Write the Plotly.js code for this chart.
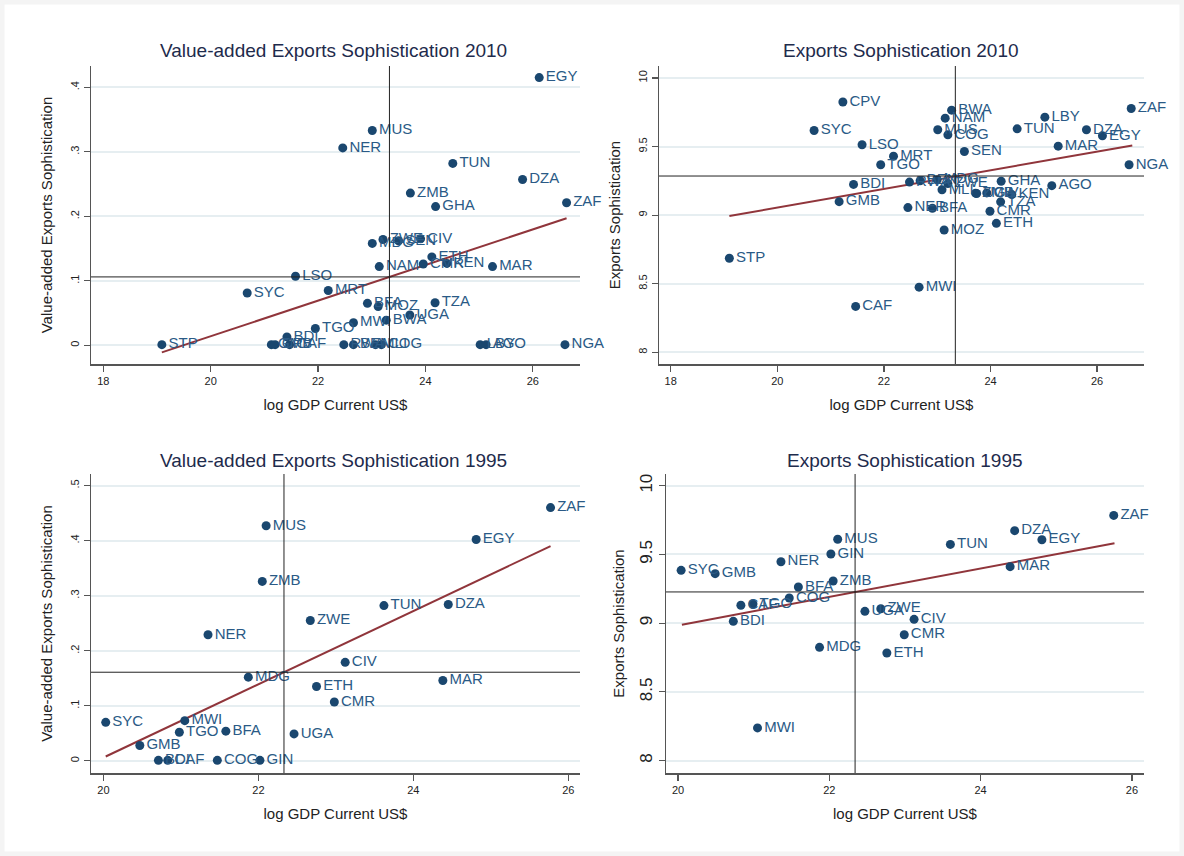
<!DOCTYPE html>
<html>
<head>
<meta charset="utf-8">
<script src="https://cdn.plot.ly/plotly-3.0.1.min.js"></script>
<style>
html,body{margin:0;padding:0;background:#ffffff;}
#chart{width:1184px;height:856px;}
</style>
</head>
<body>
<div id="chart"></div>
<script>
// ---------- Value-added Exports Sophistication 2010 ----------
var va2010Codes = ["STP","SYC","LSO","MRT","BDI","TGO","GMB","CPV","CAF","RWA","BEN","MLI","COG","LBY","AGO","NGA","MWI","BFA","MOZ","BWA","UGA","TZA","NAM","CMR","KEN","MAR","ETH","MDG","ZWE","SEN","CIV","GHA","ZMB","ZAF","DZA","TUN","NER","MUS","EGY"];
var va2010Gdp   = [19.09,20.68,21.58,22.19,21.42,21.95,21.13,21.20,21.47,22.48,22.66,23.07,23.18,25.02,25.13,26.60,22.66,22.92,23.12,23.27,23.71,24.18,23.14,23.96,24.40,25.25,24.12,23.01,23.21,23.50,23.91,24.19,23.72,26.63,25.81,24.51,22.46,23.01,26.12];
var va2010Soph  = [0.001,0.081,0.107,0.085,0.013,0.026,0.001,0.001,0.001,0.001,0.001,0.001,0.001,0.001,0.001,0.001,0.035,0.065,0.060,0.039,0.047,0.066,0.122,0.126,0.127,0.122,0.137,0.158,0.164,0.162,0.165,0.215,0.236,0.221,0.257,0.282,0.306,0.333,0.415];
var va2010FitX  = [19.09, 26.63];
var va2010FitY  = [-0.011, 0.197];
var va2010MeanX = 23.33;
var va2010MeanY = 0.106;

// ---------- Exports Sophistication 2010 ----------
var es2010Codes = ["CPV","BWA","NAM","MUS","COG","SYC","LSO","MRT","TGO","SEN","TUN","LBY","DZA","EGY","ZAF","MAR","NGA","AGO","GHA","KEN","TZA","CMR","ETH","MOZ","BFA","NER","BDI","GMB","STP","MWI","CAF","RWA","BEN","MDG","MLI","ZWE","ZMB","UGA","CIV"];
var es2010Gdp   = [21.23,23.27,23.15,23.01,23.20,20.69,21.59,22.18,21.94,23.51,24.50,25.02,25.80,26.10,26.64,25.27,26.60,25.15,24.20,24.40,24.19,23.99,24.11,23.13,22.91,22.45,21.43,21.16,19.10,22.66,21.47,22.48,22.68,23.00,23.09,23.20,23.72,23.74,23.93];
var es2010Soph  = [9.825,9.765,9.707,9.622,9.585,9.617,9.513,9.430,9.367,9.464,9.629,9.714,9.622,9.578,9.777,9.503,9.367,9.215,9.247,9.150,9.097,9.028,8.940,8.892,9.050,9.055,9.224,9.098,8.686,8.475,8.335,9.241,9.251,9.258,9.185,9.230,9.160,9.158,9.162];
var es2010FitX  = [19.10, 26.66];
var es2010FitY  = [8.994, 9.508];
var es2010MeanX = 23.34;
var es2010MeanY = 9.285;

// ---------- Value-added Exports Sophistication 1995 ----------
var va1995Codes = ["ZAF","MUS","EGY","ZMB","TUN","DZA","ZWE","NER","CIV","MDG","ETH","MAR","CMR","SYC","MWI","TGO","BFA","UGA","GMB","BDI","CAF","COG","GIN"];
var va1995Gdp   = [25.77,22.10,24.81,22.05,23.62,24.45,22.67,21.35,23.12,21.87,22.75,24.38,22.98,20.03,21.05,20.98,21.58,22.46,20.47,20.71,20.83,21.47,22.02];
var va1995Soph  = [0.460,0.427,0.402,0.326,0.282,0.284,0.255,0.229,0.179,0.152,0.135,0.146,0.107,0.070,0.073,0.052,0.054,0.049,0.028,0.001,0.001,0.001,0.001];
var va1995FitX  = [20.03, 25.77];
var va1995FitY  = [0.008, 0.390];
var va1995MeanX = 22.33;
var va1995MeanY = 0.161;

// ---------- Exports Sophistication 1995 ----------
var es1995Codes = ["ZAF","DZA","EGY","TUN","MUS","GIN","NER","MAR","SYC","GMB","ZMB","BFA","COG","CAF","TGO","BDI","UGA","ZWE","CIV","CMR","MDG","ETH","MWI"];
var es1995Gdp   = [25.76,24.45,24.81,23.60,22.11,22.02,21.36,24.39,20.04,20.49,22.05,21.59,21.47,20.83,20.99,20.73,22.47,22.68,23.12,22.99,21.87,22.76,21.05];
var es1995Soph  = [9.784,9.673,9.607,9.573,9.610,9.503,9.447,9.411,9.384,9.360,9.307,9.263,9.183,9.130,9.139,9.013,9.086,9.105,9.028,8.916,8.824,8.783,8.238];
var es1995FitX  = [20.05, 25.77];
var es1995FitY  = [8.989, 9.581];
var es1995MeanX = 22.34;
var es1995MeanY = 9.227;

// ---------- ticks & titles ----------
var xTicks2010 = [18, 20, 22, 24, 26];
var xTicks1995 = [20, 22, 24, 26];
var vaTicks2010 = [0, 0.1, 0.2, 0.3, 0.4];
var vaTickText2010 = ["0", ".1", ".2", ".3", ".4"];
var vaTicks1995 = [0, 0.1, 0.2, 0.3, 0.4, 0.5];
var vaTickText1995 = ["0", ".1", ".2", ".3", ".4", ".5"];
var esTicks = [8, 8.5, 9, 9.5, 10];
var esTickText = ["8", "8.5", "9", "9.5", "10"];
var panelTitles = ["Value-added Exports Sophistication 2010", "Exports Sophistication 2010",
                   "Value-added Exports Sophistication 1995", "Exports Sophistication 1995"];
var xTitle = "log GDP Current US$";
var yTitleVA = "Value-added Exports Sophistication";
var yTitleES = "Exports Sophistication";

// ---------- styling ----------
var W = 1184, H = 856;
var FONT = "Liberation Sans, Arial, sans-serif";
var NAVY = "#1a476f";
var LABEL_COL = "#2a5a86";
var MAROON = "#90353b";
var TITLE_COL = "#1e2b4c";

function pts(codes, xs, ys, xa, ya) {
  return {
    type: "scatter", mode: "markers+text", x: xs, y: ys, text: codes,
    xaxis: xa, yaxis: ya, textposition: "middle right",
    marker: {color: NAVY, size: 9},
    textfont: {family: FONT, size: 15, color: LABEL_COL},
    cliponaxis: false, hoverinfo: "skip", showlegend: false
  };
}
function fit(xs, ys, xa, ya) {
  return {
    type: "scatter", mode: "lines", x: xs, y: ys, xaxis: xa, yaxis: ya,
    line: {color: MAROON, width: 2}, hoverinfo: "skip", showlegend: false
  };
}

var data = [
  fit(va2010FitX, va2010FitY, "x", "y"),
  pts(va2010Codes, va2010Gdp, va2010Soph, "x", "y"),
  fit(es2010FitX, es2010FitY, "x2", "y2"),
  pts(es2010Codes, es2010Gdp, es2010Soph, "x2", "y2"),
  fit(va1995FitX, va1995FitY, "x3", "y3"),
  pts(va1995Codes, va1995Gdp, va1995Soph, "x3", "y3"),
  fit(es1995FitX, es1995FitY, "x4", "y4"),
  pts(es1995Codes, es1995Gdp, es1995Soph, "x4", "y4")
];

function px(a, b) { return [a / W, b / W]; }
function py(top, bottom) { return [1 - bottom / H, 1 - top / H]; }

function xaxis(dom, range, ticks, anchor) {
  return {
    domain: dom, range: range, anchor: anchor, tickvals: ticks, ticktext: ticks.map(String),
    showgrid: false, zeroline: false, showline: true, linecolor: "#555", linewidth: 1.5,
    ticks: "outside", ticklen: 6, tickcolor: "#555", tickwidth: 1.2,
    tickfont: {family: FONT, size: 11, color: "#222"},
    title: {text: xTitle, font: {family: FONT, size: 15, color: "#222"}, standoff: 14}
  };
}
function yaxis(dom, range, ticks, text, anchor, title, tsize, standoff) {
  return {
    domain: dom, range: range, anchor: anchor, tickvals: ticks, ticktext: text,
    showgrid: true, gridcolor: "#e6eef1", gridwidth: 2, zeroline: false,
    showline: true, linecolor: "#555", linewidth: 1.5,
    ticks: "outside", ticklen: 6, tickcolor: "#555", tickwidth: 1.2, tickangle: -90,
    tickfont: {family: FONT, size: tsize, color: "#222"},
    title: {text: title, font: {family: FONT, size: 15, color: "#222"}, standoff: standoff}
  };
}

var yTop = py(66, 364), yBot = py(474, 773);
var layout = {
  width: W, height: H, margin: {l: 0, r: 0, t: 0, b: 0},
  paper_bgcolor: "#ffffff", plot_bgcolor: "#ffffff", showlegend: false,
  font: {family: FONT},
  xaxis: xaxis(px(91, 580), [17.77, 26.88], xTicks2010, "y"),
  yaxis: yaxis(yTop, [-0.029, 0.433], vaTicks2010, vaTickText2010, "x", yTitleVA, 11, 13),
  xaxis2: xaxis(px(659, 1144), [17.78, 26.88], xTicks2010, "y2"),
  yaxis2: yaxis(yTop, [7.915, 10.087], esTicks, esTickText, "x2", yTitleES, 11, 13),
  xaxis3: xaxis(px(91, 580), [19.84, 26.15], xTicks1995, "y3"),
  yaxis3: yaxis(yBot, [-0.022, 0.521], vaTicks1995, vaTickText1995, "x3", yTitleVA, 11, 13),
  xaxis4: xaxis(px(666, 1144), [19.84, 26.16], xTicks1995, "y4"),
  yaxis4: yaxis(yBot, [7.91, 10.085], esTicks, esTickText, "x4", yTitleES, 17, 8),
  shapes: [
    {type: "line", xref: "x", yref: "y domain", x0: va2010MeanX, x1: va2010MeanX, y0: 0, y1: 1, line: {color: "#222", width: 1}},
    {type: "line", xref: "x domain", yref: "y", x0: 0, x1: 1, y0: va2010MeanY, y1: va2010MeanY, line: {color: "#222", width: 1}},
    {type: "line", xref: "x2", yref: "y2 domain", x0: es2010MeanX, x1: es2010MeanX, y0: 0, y1: 1, line: {color: "#222", width: 1}},
    {type: "line", xref: "x2 domain", yref: "y2", x0: 0, x1: 1, y0: es2010MeanY, y1: es2010MeanY, line: {color: "#222", width: 1}},
    {type: "line", xref: "x3", yref: "y3 domain", x0: va1995MeanX, x1: va1995MeanX, y0: 0, y1: 1, line: {color: "#222", width: 1}},
    {type: "line", xref: "x3 domain", yref: "y3", x0: 0, x1: 1, y0: va1995MeanY, y1: va1995MeanY, line: {color: "#222", width: 1}},
    {type: "line", xref: "x4", yref: "y4 domain", x0: es1995MeanX, x1: es1995MeanX, y0: 0, y1: 1, line: {color: "#222", width: 1}},
    {type: "line", xref: "x4 domain", yref: "y4", x0: 0, x1: 1, y0: es1995MeanY, y1: es1995MeanY, line: {color: "#222", width: 1}},
    {type: "rect", xref: "paper", yref: "paper", x0: 0, x1: 1, y0: 0, y1: 1, layer: "below",
     line: {color: "#f4f4f4", width: 9}}
  ],
  annotations: [
    {text: panelTitles[0], xref: "paper", yref: "paper", x: 333 / W, y: 1 - 50 / H, showarrow: false, xanchor: "center", yanchor: "middle", font: {family: FONT, size: 19, color: TITLE_COL}},
    {text: panelTitles[1], xref: "paper", yref: "paper", x: 901 / W, y: 1 - 50 / H, showarrow: false, xanchor: "center", yanchor: "middle", font: {family: FONT, size: 19, color: TITLE_COL}},
    {text: panelTitles[2], xref: "paper", yref: "paper", x: 333 / W, y: 1 - 460 / H, showarrow: false, xanchor: "center", yanchor: "middle", font: {family: FONT, size: 19, color: TITLE_COL}},
    {text: panelTitles[3], xref: "paper", yref: "paper", x: 905 / W, y: 1 - 460 / H, showarrow: false, xanchor: "center", yanchor: "middle", font: {family: FONT, size: 19, color: TITLE_COL}}
  ]
};

Plotly.newPlot("chart", data, layout, {staticPlot: true, displayModeBar: false});
</script>
</body>
</html>
